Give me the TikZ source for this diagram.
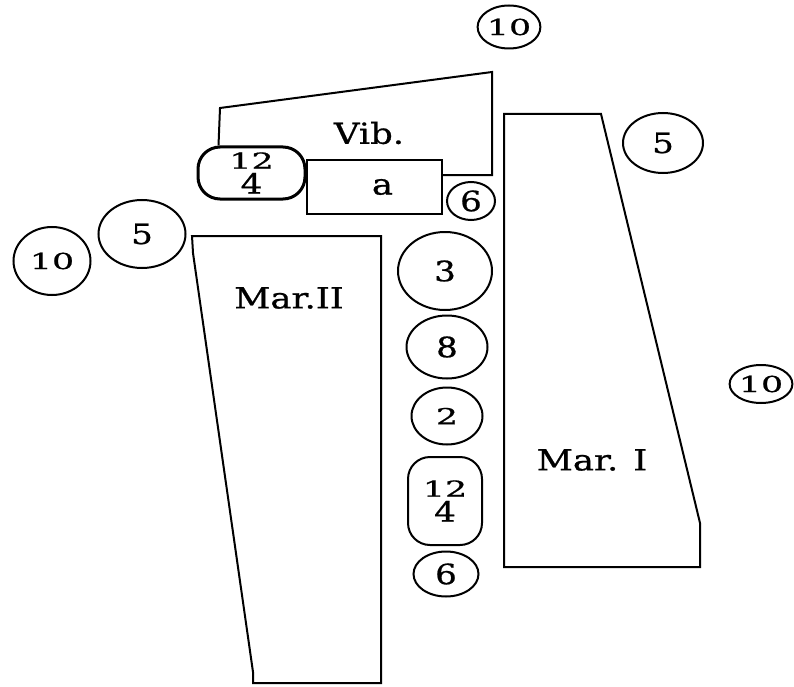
\documentclass[tikz,border=0pt]{standalone}
\usepackage{fontspec}
\usepackage{graphicx}
\setmainfont[FakeStretch=1.22, FakeBold=0.8]{DejaVu Serif}
\usetikzlibrary{shapes.geometric}
\newcommand\sdig[1]{\scalebox{1.3}[1]{\fontsize{22}{24}\selectfont #1}}
\begin{document}
\begin{tikzpicture}[x=1pt,y=-1pt,
  line width=2pt, line join=miter,
  oval/.style={draw, ellipse, inner sep=0pt, font=\fontsize{28}{30}\selectfont},
  pill/.style={draw, rectangle, rounded corners=22pt, inner sep=0pt, align=center, font=\fontsize{28}{30}\selectfont},
  lbl/.style={inner sep=0pt, font=\fontsize{29}{32}\selectfont},
  boxa/.style={draw, rectangle, inner sep=0pt, font=\fontsize{29}{32}\selectfont}
]
\useasboundingbox (0,0) rectangle (794,687);

% Mar. II and Mar. I shapes
\draw (192,236) -- (381,236) -- (381,683) -- (253,683) -- (253,672) -- (193,253) -- cycle;
\draw (504,114) -- (601,114) -- (700,523) -- (700,567) -- (504,567) -- cycle;
\node[lbl] (marII) at (289,298) {Mar.II};
\node[lbl] (marI) at (592,460) {Mar. I};

% Vib. region
\node[pill, line width=3pt, minimum width=107pt, minimum height=52pt] (b1) at (251.5,173) {\sdig{12}\\[-5pt]4};
\node[boxa, minimum width=135pt, minimum height=54pt] (a) at (374.5,187) {\hspace*{16pt}a};
\draw ([xshift=22pt]b1.north west) -- (220,108) -- (492,72) -- (492,175) -- ([yshift=12pt]a.east);
\node[lbl] (vib) at (369,133) {Vib.};
\node[oval, minimum width=48pt, minimum height=38pt] (c6a) at (471,201) {6};

% scattered circles
\node[oval, minimum width=62pt, minimum height=43pt] (c10t) at (509,27) {\sdig{10}};
\node[oval, minimum width=80pt, minimum height=60pt] (c5r) at (663,143) {5};
\node[oval, minimum width=52pt, minimum height=38pt] (c10r) at (761,384) {\sdig{10}};
\node[oval, minimum width=77pt, minimum height=68pt] (c10l) at (52,261) {\sdig{10}};
\node[oval, minimum width=87pt, minimum height=68pt] (c5l) at (142,234) {5};

% middle column
\node[oval, minimum width=94pt, minimum height=78pt] (c3) at (445,271) {3};
\node[oval, minimum width=81pt, minimum height=63pt] (c8) at (447,347) {8};
\node[oval, minimum width=71pt, minimum height=57pt] (c2) at (447,416) {\sdig{2}};
\node[pill, minimum width=74pt, minimum height=88pt] (b2) at (445,501) {\sdig{12}\\[-5pt]4};
\node[oval, minimum width=65pt, minimum height=45pt] (c6b) at (446,574) {6};
\end{tikzpicture}
\end{document}
